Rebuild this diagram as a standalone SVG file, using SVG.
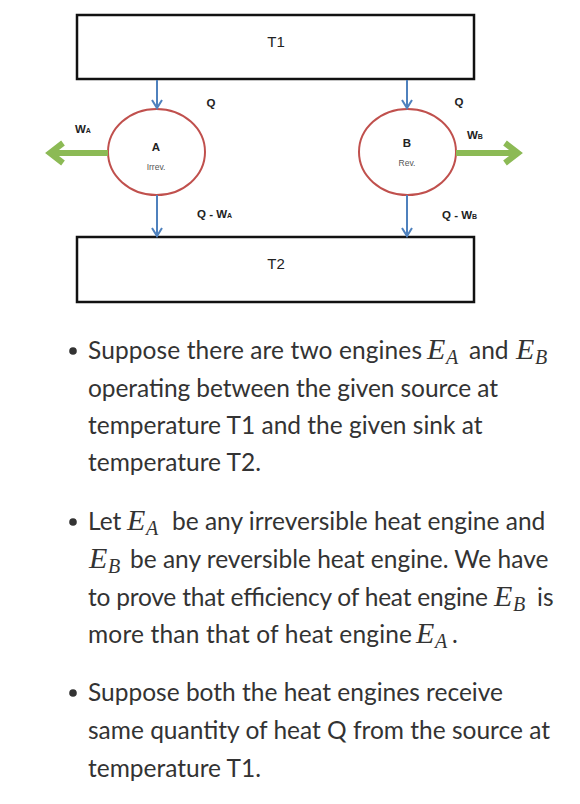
<svg xmlns="http://www.w3.org/2000/svg" width="580" height="804" viewBox="0 0 580 804">
<defs>
<style>
.box{fill:#fff;stroke:#111;stroke-width:2.5}
.eng{fill:#fff;stroke:#c0504d;stroke-width:2}
.heat{stroke:#4f81bd;stroke-width:2;fill:none}
.work{stroke:#8cba55;stroke-width:6;fill:none;stroke-linecap:butt}
.lbl{font-family:"Liberation Sans",Arial,sans-serif;font-weight:bold;fill:#222;font-size:11.5px}
.big{font-family:"Liberation Sans",Arial,sans-serif;fill:#222;font-size:15px}
.small{font-family:"Liberation Sans",Arial,sans-serif;fill:#555;font-size:8.5px}
.body{font-family:"Lato","Noto Sans",sans-serif;font-size:24.5px;fill:#333}
.math{font-family:"Liberation Serif","Times New Roman",serif;font-style:italic;font-size:30px;fill:#333}
.sub{font-family:"Liberation Serif","Times New Roman",serif;font-style:italic;font-size:20px;fill:#333}
</style>
<marker id="hv" viewBox="0 0 12 12" refX="10" refY="6" markerWidth="12" markerHeight="12" markerUnits="userSpaceOnUse" orient="auto">
<path d="M2,1 L10,6 L2,11" fill="none" stroke="#4f81bd" stroke-width="2"/>
</marker>
</defs>

<g id="T1"><rect class="box" x="77" y="15" width="397" height="64"/><text class="big" x="276" y="47" text-anchor="middle">T1</text></g>
<g id="T2"><rect class="box" x="77" y="237" width="397" height="65"/><text class="big" x="276" y="269" text-anchor="middle">T2</text></g>
<g id="A"><ellipse class="eng" cx="156.5" cy="152" rx="48.5" ry="43"/><text class="lbl" x="156" y="151" text-anchor="middle" font-size="14">A</text><text class="small" x="156" y="170" text-anchor="middle">Irrev.</text></g>
<g id="B"><ellipse class="eng" cx="407.5" cy="152" rx="48.5" ry="43"/><text class="lbl" x="407" y="147" text-anchor="middle" font-size="14">B</text><text class="small" x="407" y="166" text-anchor="middle">Rev.</text></g>

<g id="connectors">
<line class="heat" x1="157" y1="80" x2="157" y2="108" marker-end="url(#hv)"/>
<line class="heat" x1="407" y1="80" x2="407" y2="108" marker-end="url(#hv)"/>
<line class="heat" x1="157" y1="195" x2="157" y2="236" marker-end="url(#hv)"/>
<line class="heat" x1="407" y1="195" x2="407" y2="236" marker-end="url(#hv)"/>
<path class="work" d="M108,153 H52 M63,143 L50,153 L63,163"/>
<path class="work" d="M456,153 H516 M505,143 L518,153 L505,163"/>
</g>

<g id="labels">
<text class="lbl" x="211" y="107" text-anchor="middle">Q</text>
<text class="lbl" x="459" y="106" text-anchor="middle">Q</text>
<text class="lbl" x="75" y="133">W<tspan font-size="7">A</tspan></text>
<text class="lbl" x="467" y="139">W<tspan font-size="7">B</tspan></text>
<text class="lbl" x="197" y="218">Q - W<tspan font-size="7">A</tspan></text>
<text class="lbl" x="442" y="219">Q - W<tspan font-size="7">B</tspan></text>
</g>

<g id="bullets" fill="#333">
<circle cx="73" cy="351" r="3.8"/>
<circle cx="73" cy="522" r="3.8"/>
<circle cx="73" cy="693" r="3.8"/>
</g>

<g id="text1">
<text class="body" x="88" y="359" textLength="334" lengthAdjust="spacing">Suppose there are two engines</text>
<text class="math" x="427" y="359">E</text><text class="sub" x="446" y="364">A</text>
<text class="body" x="469" y="359">and</text>
<text class="math" x="516" y="359">E</text><text class="sub" x="535" y="364">B</text>
<text class="body" x="88" y="397" textLength="410" lengthAdjust="spacing">operating between the given source at</text>
<text class="body" x="88" y="434">temperature T1 and the given sink at</text>
<text class="body" x="88" y="471">temperature T2.</text>
</g>

<g id="text2">
<text class="body" x="88" y="530">Let</text>
<text class="math" x="127" y="530">E</text><text class="sub" x="146" y="535">A</text>
<text class="body" x="172" y="530">be any irreversible heat engine and</text>
<text class="math" x="89" y="568">E</text><text class="sub" x="108" y="573">B</text>
<text class="body" x="130" y="568">be any reversible heat engine. We have</text>
<text class="body" x="88" y="606" textLength="400" lengthAdjust="spacing">to prove that efficiency of heat engine</text>
<text class="math" x="494" y="606">E</text><text class="sub" x="513" y="611">B</text>
<text class="body" x="537" y="606">is</text>
<text class="body" x="88" y="643" textLength="324" lengthAdjust="spacing">more than that of heat engine</text>
<text class="math" x="416" y="643">E</text><text class="sub" x="435" y="648">A</text>
<text class="body" x="452" y="643">.</text>
</g>

<g id="text3">
<text class="body" x="88" y="701">Suppose both the heat engines receive</text>
<text class="body" x="88" y="739">same quantity of heat Q from the source at</text>
<text class="body" x="88" y="777">temperature T1.</text>
</g>
</svg>
